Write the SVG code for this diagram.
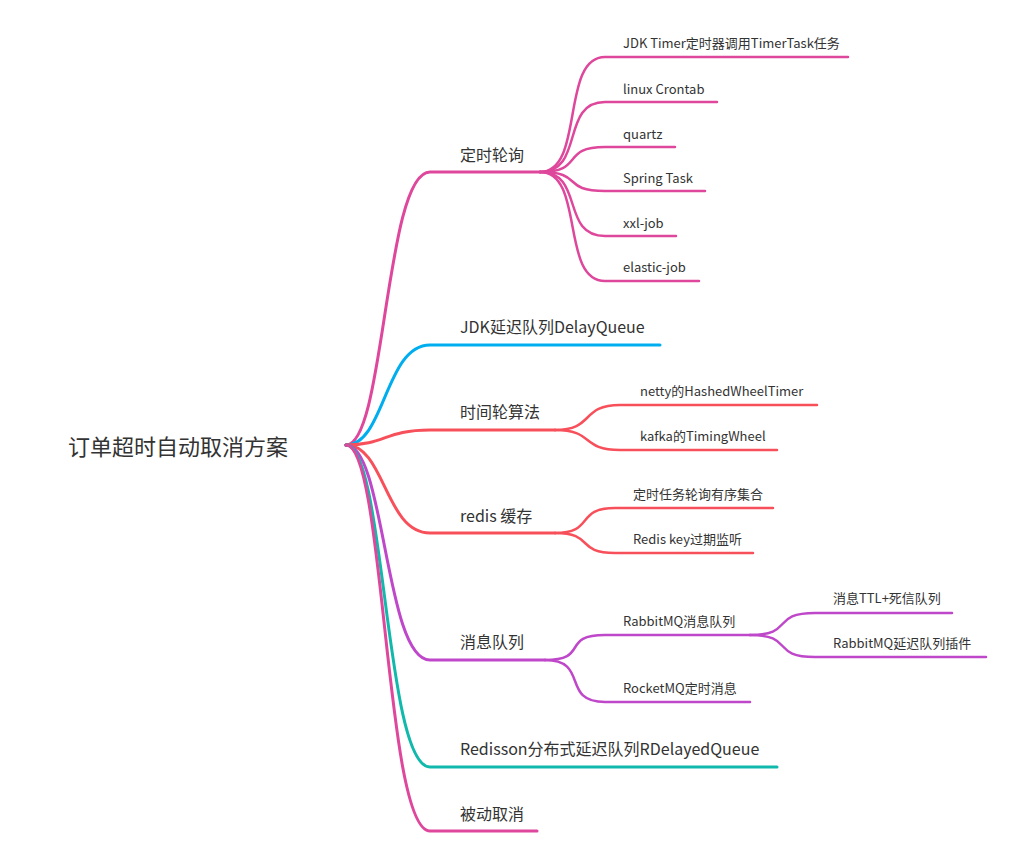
<svg xmlns="http://www.w3.org/2000/svg" width="1014" height="864" viewBox="0 0 1014 864">
<style>
text{font-family:"Noto Sans CJK SC","Noto Sans",sans-serif;fill:#333}
.r{font-size:22px}
.a{font-size:16px}
.b{font-size:13px}
path{fill:none;stroke-linecap:round}
.l1{stroke-width:3}
.l2{stroke-width:2.5}
.pk{stroke:#de479b}
.bl{stroke:#00adef}
.rd{stroke:#f7505a}
.pu{stroke:#bf47c9}
.tl{stroke:#10b9ab}
</style>
<rect width="1014" height="864" fill="#fff"/>
<g id="connectors">
<path class="l1 pk" d="M346,445 C385,445 385,172 430,172 H540"/>
<path class="l1 bl" d="M346,445 C385,445 385,345 430,345 H660"/>
<path class="l1 rd" d="M346,445 C385,445 385,430 430,430 H555"/>
<path class="l1 rd" d="M346,445 C385,445 385,533 430,533 H555"/>
<path class="l1 pu" d="M346,445 C385,445 385,660 430,660 H545"/>
<path class="l1 tl" d="M346,445 C385,445 385,767 430,767 H777"/>
<path class="l1 pk" d="M346,445 C385,445 385,831 430,831 H537"/>
<path class="l2 pk" d="M540,172 C585,172 560,57 605,57 H848"/>
<path class="l2 pk" d="M540,172 C585,172 560,102 605,102 H717"/>
<path class="l2 pk" d="M540,172 C585,172 560,147 605,147 H675"/>
<path class="l2 pk" d="M540,172 C585,172 560,191 605,191 H705"/>
<path class="l2 pk" d="M540,172 C585,172 560,236 605,236 H676"/>
<path class="l2 pk" d="M540,172 C585,172 560,281 605,281 H699"/>
<path class="l2 rd" d="M555,430 C595,430 580,405 620,405 H817"/>
<path class="l2 rd" d="M555,430 C595,430 580,450 620,450 H777"/>
<path class="l2 rd" d="M555,533 C595,533 575,508 615,508 H773"/>
<path class="l2 rd" d="M555,533 C595,533 575,553 615,553 H753"/>
<path class="l2 pu" d="M545,660 C590,660 560,635 605,635 H750"/>
<path class="l2 pu" d="M545,660 C590,660 560,702 605,702 H750"/>
<path class="l2 pu" d="M750,635 C795,635 770,613 815,613 H952"/>
<path class="l2 pu" d="M750,635 C795,635 770,657 815,657 H986"/>
</g>
<g id="root"><text class="r" x="68" y="455">订单超时自动取消方案</text></g>
<g id="n1"><text class="a" x="460" y="161">定时轮询</text></g>
<g id="n1a"><text class="b" x="623" y="48">JDK Timer定时器调用TimerTask任务</text></g>
<g id="n1b"><text class="b" x="623" y="94">linux Crontab</text></g>
<g id="n1c"><text class="b" x="623" y="139">quartz</text></g>
<g id="n1d"><text class="b" x="623" y="183">Spring Task</text></g>
<g id="n1e"><text class="b" x="623" y="228">xxl-job</text></g>
<g id="n1f"><text class="b" x="623" y="272">elastic-job</text></g>
<g id="n2"><text class="a" x="460" y="333">JDK延迟队列DelayQueue</text></g>
<g id="n3"><text class="a" x="460" y="418">时间轮算法</text></g>
<g id="n3a"><text class="b" x="640" y="396">netty的HashedWheelTimer</text></g>
<g id="n3b"><text class="b" x="640" y="441">kafka的TimingWheel</text></g>
<g id="n4"><text class="a" x="460" y="522">redis 缓存</text></g>
<g id="n4a"><text class="b" x="633" y="499">定时任务轮询有序集合</text></g>
<g id="n4b"><text class="b" x="633" y="544">Redis key过期监听</text></g>
<g id="n5"><text class="a" x="460" y="648">消息队列</text></g>
<g id="n5a"><text class="b" x="623" y="626">RabbitMQ消息队列</text></g>
<g id="n5a1"><text class="b" x="833" y="603">消息TTL+死信队列</text></g>
<g id="n5a2"><text class="b" x="833" y="648">RabbitMQ延迟队列插件</text></g>
<g id="n5b"><text class="b" x="623" y="693">RocketMQ定时消息</text></g>
<g id="n6"><text class="a" x="460" y="755">Redisson分布式延迟队列RDelayedQueue</text></g>
<g id="n7"><text class="a" x="460" y="820">被动取消</text></g>
</svg>
